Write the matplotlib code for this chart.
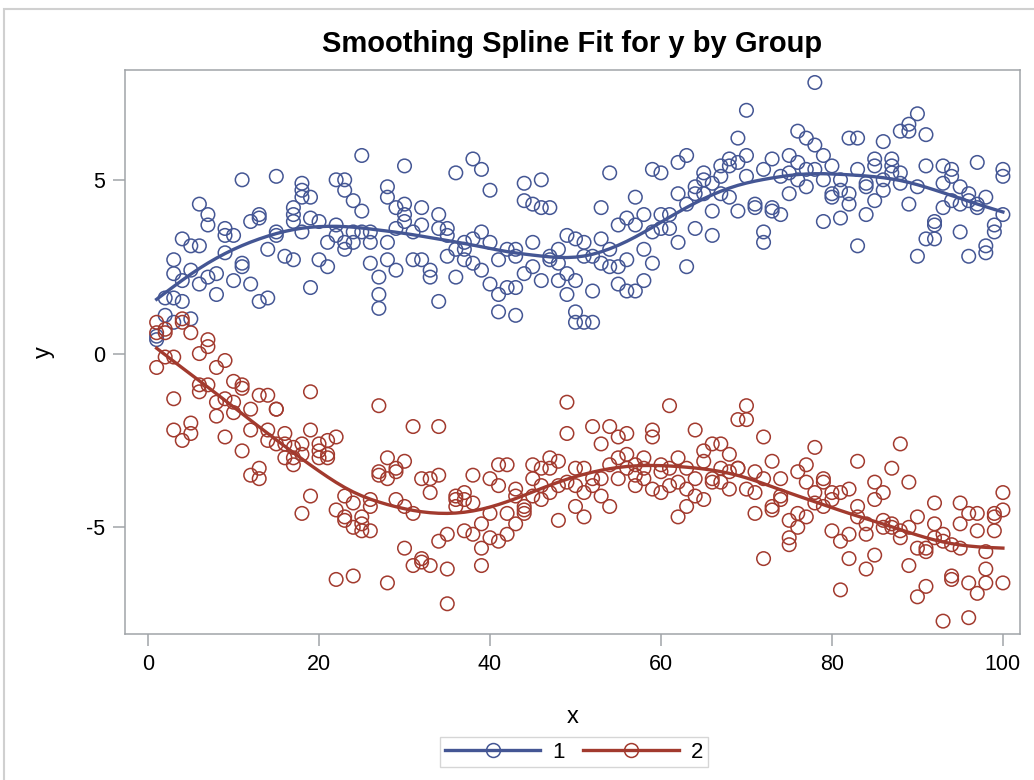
import numpy as np
import matplotlib
matplotlib.use("Agg")
import matplotlib.pyplot as plt
from matplotlib.lines import Line2D
from matplotlib.patches import Rectangle

# y values, one list per x = 1..100
group1_y = [
    [0.4, 0.5], [1.6, 1.1], [2.3, 2.7, 1.6, 0.9], [3.3, 1.5, 2.1], [3.1, 2.4, 1.0],
    [4.3, 3.1, 2.0], [4.0, 3.7, 2.2], [2.3, 1.7], [3.6, 3.4, 2.9], [3.4, 2.1],
    [5.0, 2.6, 2.5], [3.8, 2.0], [3.9, 4.0, 1.5], [3.0, 1.6], [5.1, 3.5, 3.4],
    [2.8], [4.2, 4.0, 3.8, 2.7], [4.9, 4.7, 4.5, 3.5], [4.5, 3.9, 1.9], [3.8, 2.7],
    [3.2, 2.5], [5.0, 3.7, 3.4], [5.0, 4.7, 3.2, 3.0], [4.4, 3.5, 3.2], [5.7, 4.1, 3.5],
    [3.5, 3.2, 2.6], [1.7, 1.3, 2.2], [4.8, 4.5, 3.2, 2.7], [4.2, 2.4, 3.6], [5.4, 4.3, 4.0, 3.8],
    [3.5, 2.7], [4.2, 3.7, 2.7], [2.4, 2.2], [4.0, 3.6, 1.5], [3.6, 3.4, 2.8],
    [5.2, 3.0, 2.2], [3.2, 2.7, 3.0], [5.6, 3.3, 2.6], [5.3, 3.5, 2.4], [4.7, 3.2, 2.0],
    [2.7, 1.7, 1.2], [3.0, 1.9], [3.0, 2.8, 1.1, 1.9], [4.9, 4.4, 2.3], [4.3, 2.5, 3.2],
    [5.0, 4.2, 2.1], [4.2, 2.8, 2.7], [3.0, 2.6, 2.1], [2.3, 1.7, 3.4], [3.3, 2.1, 0.9, 1.2],
    [3.2, 2.8, 0.9], [2.8, 0.9, 1.8], [4.2, 3.3, 2.6], [5.2, 3.0, 2.5], [3.7, 2.5, 2.0],
    [3.9, 1.8, 2.7], [4.5, 3.7, 1.8], [4.0, 2.1, 3.0], [5.3, 3.5, 2.6], [5.2, 3.6, 4.0],
    [3.6, 4.0], [5.5, 4.6, 3.2], [5.7, 4.3, 2.5], [4.8, 4.6, 3.6], [5.2, 5.0, 4.6],
    [4.9, 4.1, 3.4], [5.4, 5.1, 4.6], [5.6, 5.4, 4.5], [6.2, 5.5, 4.1], [7.0, 5.7, 5.1],
    [4.3, 4.2], [5.3, 3.5, 3.2], [5.6, 4.2, 4.1], [5.1, 4.0], [5.7, 5.2, 4.6],
    [6.4, 5.5, 5.0], [6.2, 5.3, 4.8], [7.8, 6.0, 5.3], [5.7, 3.8, 5.0], [5.4, 4.6, 4.5],
    [5.0, 4.7, 3.9], [6.2, 4.6, 4.3], [6.2, 5.3, 3.1], [4.9, 4.0, 4.8], [5.6, 5.4, 4.4],
    [6.1, 5.0, 4.7], [5.6, 5.4, 5.2], [6.4, 5.2, 4.9], [6.6, 6.4, 4.3], [6.9, 4.8, 2.8],
    [6.3, 5.4, 3.3], [3.8, 3.7, 3.3], [5.4, 4.2, 4.9], [5.3, 5.1, 4.4], [3.5, 4.3, 4.8],
    [4.4, 4.6, 2.8], [5.5, 4.3, 4.2], [4.5, 3.1, 2.9], [3.7, 3.5], [5.3, 5.1, 4.0],
]

group2_y = [
    [0.9, 0.6, -0.4], [0.7, 0.6, -0.1], [-0.1, -1.3, -2.2], [1.0, 0.9, -2.5], [0.6, -2.3, -2.0],
    [0.0, -0.9, -1.1], [0.4, 0.2, -0.9], [-1.4, -1.8, -0.4], [-0.2, -2.4, -1.3], [-0.8, -1.4, -1.7],
    [-0.9, -2.8, -1.0], [-2.2, -3.5, -1.6], [-1.2, -3.3, -3.6], [-1.2, -2.2, -2.5], [-1.6, -1.6, -2.6],
    [-2.3, -2.6, -3.0], [-2.7, -3.0, -3.2], [-2.9, -4.6, -2.6], [-1.1, -2.2, -4.1], [-2.6, -3.0, -2.8],
    [-2.5, -2.9, -3.0], [-2.4, -4.5, -6.5], [-4.1, -4.7, -4.8], [-4.3, -5.0, -6.4], [-4.7, -5.1, -4.9],
    [-4.2, -5.1, -4.4], [-1.5, -3.4, -3.5], [-3.0, -3.6, -6.6], [-3.4, -4.2, -3.3], [-3.1, -4.4, -5.6],
    [-2.1, -4.6, -6.1], [-3.6, -6.0, -5.9], [-4.0, -3.6, -6.1], [-2.1, -3.5, -5.4], [-5.2, -6.2, -7.2],
    [-4.1, -4.2, -4.4], [-4.0, -4.2, -5.1], [-3.5, -4.3, -5.2], [-5.6, -4.9, -6.1], [-3.6, -5.3, -4.6],
    [-3.2, -3.8, -5.4], [-3.2, -4.6, -5.2], [-4.1, -3.9, -4.9], [-4.6, -4.5, -4.4], [-3.2, -4.1, -3.6],
    [-3.3, -3.8, -4.2], [-3.0, -3.3, -4.0], [-3.1, -3.8, -4.8], [-2.3, -1.4, -3.7], [-3.3, -4.4, -3.8],
    [-3.3, -4.0, -4.7], [-3.6, -2.1, -3.8], [-2.6, -3.6, -4.1], [-2.1, -4.4, -3.2], [-2.4, -3.0, -3.6],
    [-2.3, -2.9, -3.3], [-3.2, -3.5, -3.8], [-3.0, -3.3, -3.6], [-2.2, -2.4, -3.9], [-3.4, -3.2, -4.0],
    [-1.5, -3.8, -3.3], [-3.0, -3.7, -4.7], [-3.3, -4.4, -3.9], [-2.2, -3.6, -4.1], [-2.8, -3.1, -4.2],
    [-2.6, -3.7, -3.6], [-2.6, -3.3, -3.7], [-2.9, -3.4, -3.9], [-1.9, -3.3, -3.3], [-1.5, -1.9, -3.9],
    [-3.4, -4.0, -4.6], [-2.4, -3.6, -5.9], [-3.1, -4.4, -4.5], [-3.6, -4.2, -4.1], [-5.5, -4.8, -5.3],
    [-3.4, -4.6, -5.0], [-3.2, -3.7, -4.7], [-2.7, -4.0, -4.3], [-3.7, -4.4, -3.6], [-4.0, -4.2, -5.1],
    [-4.0, -5.4, -6.8], [-3.9, -5.2, -5.9], [-3.1, -4.4, -4.7], [-4.9, -5.2, -6.2], [-3.7, -4.2, -5.8],
    [-4.0, -5.0, -4.8], [-3.3, -4.9, -5.0], [-2.6, -5.1, -5.3], [-3.7, -5.0, -6.1], [-4.7, -5.6, -7.0],
    [-5.6, -6.7, -5.7], [-4.3, -4.9, -5.3], [-5.4, -7.7, -5.2], [-6.4, -6.5, -5.5], [-4.3, -4.9, -5.6],
    [-4.6, -6.6, -7.6], [-4.6, -5.1, -6.9], [-5.7, -6.2, -6.6], [-4.7, -4.6, -5.1], [-4.0, -4.5, -6.6],
]

x_values = list(range(1, 101))
groups = ["1", "2"]
colors = ["#445694", "#A23A2E"]


def smooth_fit(ys, lam=1300.0):
    # penalized (second difference) smoother, discrete stand-in for a smoothing spline
    n = len(ys)
    w = np.array([len(v) for v in ys], dtype=float)
    m = np.array([np.mean(v) for v in ys])
    D = np.diff(np.eye(n), 2, axis=0)
    A = np.diag(w) + lam * D.T @ D
    return np.linalg.solve(A, w * m)


plt.rcParams['font.family'] = ['Liberation Sans', 'DejaVu Sans']
plt.rcParams['axes.unicode_minus'] = False

fig = plt.figure(figsize=(10.34, 7.8), dpi=100)
ax = fig.add_axes([125 / 1034, 1 - 634 / 780, (1020 - 125) / 1034, (634 - 70) / 780])

for g, ys, col in zip(groups, [group1_y, group2_y], colors):
    xs = [x for x, v in zip(x_values, ys) for _ in v]
    yy = [y for v in ys for y in v]
    ax.scatter(xs, yy, s=95, facecolors='none', edgecolors=col, linewidths=1.1, zorder=2)
    ax.plot(x_values, smooth_fit(ys), color=col, lw=2.4, zorder=3)

ax.set_xlim(-2.7, 102.0)
ax.set_ylim(-8.07, 8.16)
ax.set_xticks([0, 20, 40, 60, 80, 100])
ax.set_yticks([-5, 0, 5])
ax.tick_params(labelsize=15.5, length=8.5, width=1.1, color='#a0a4a8', pad=6)
for s in ax.spines.values():
    s.set_color('#a0a4a8')
    s.set_linewidth(1.1)
ax.set_xlabel('x', fontsize=17, labelpad=22)
ax.set_ylabel('y', fontsize=17, labelpad=22)
ax.set_title('Smoothing Spline Fit for y by Group', fontsize=21, fontweight='bold', pad=13)

handles = [Line2D([0], [0], color=c, lw=2.4, marker='o', markersize=10,
                  markerfacecolor='none', markeredgecolor=c, markeredgewidth=1.1)
           for c in colors]
leg = fig.legend(handles, groups, loc='center', bbox_to_anchor=(574 / 1034, 1 - 752 / 780),
                 ncol=2, fontsize=16, frameon=True, fancybox=False, numpoints=1,
                 handlelength=4.3, columnspacing=0.8, handletextpad=0.55, borderpad=0.2,
                 borderaxespad=0)
leg.get_frame().set_edgecolor('#cccccc')
leg.get_frame().set_linewidth(1.0)

# outer border of the output frame
fig.patches.append(Rectangle((4 / 1034, -0.01), 1.1, 1 - 9 / 780 + 0.01, transform=fig.transFigure,
                             fill=False, edgecolor='#d0d0d0', lw=1.5))

fig.savefig('out.png', dpi=100)
